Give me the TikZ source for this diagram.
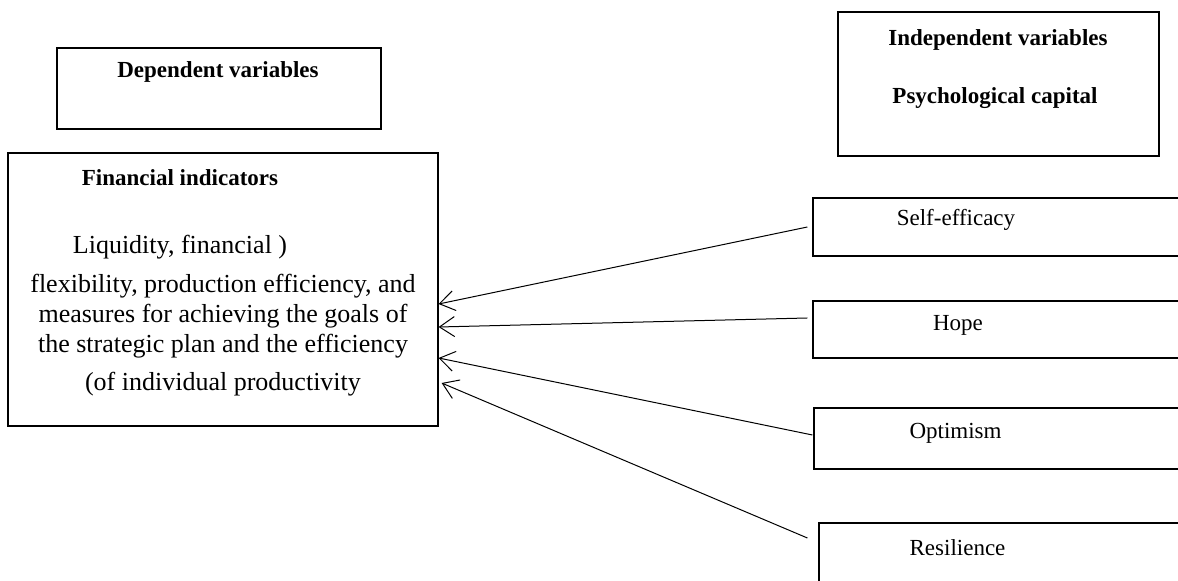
\documentclass[tikz,border=0pt]{standalone}
\usepackage{fontspec}
\setmainfont{Liberation Serif}
\usetikzlibrary{arrows.meta}

\begin{document}
\begin{tikzpicture}[x=0.5pt, y=-0.5pt,
    box/.style = {draw, line width=0.6pt, inner sep=0pt},
    head/.style = {font=\fontsize{11.5}{14}\selectfont\bfseries},
    varname/.style = {font=\fontsize{11.5}{14}\selectfont},
    arrow/.style = {line width=0.5pt,-{Straight Barb[length=7.5pt,width=10pt]}}]
                \useasboundingbox (0,0) rectangle (1178,581);
                \clip (0,0) rectangle (1178,581);

                % dependent side
                \node[box, minimum width=162pt, minimum height=40.5pt]
                    (dep) at (219,88.5) {};
                \node[head] (deptitle) at (218,72) {Dependent variables};
                \node[box, minimum width=215pt, minimum height=136.5pt]
                    (fin) at (223,289.5) {};
                \node[head] (fintitle) at (180,178) {Financial indicators};
                \node[align=center, font=\fontsize{13}{15}\selectfont]
                    (finbody) at (223,316)
                    {Liquidity, financial )\hspace*{43pt}\\[4.5pt]
                     flexibility, production efficiency, and\\
                     measures for achieving the goals of\\
                     the strategic plan and the efficiency\\[4pt]
                     (of individual productivity};

                % independent side
                \node[box, minimum width=160.5pt, minimum height=72pt]
                    (indep) at (998.5,84) {};
                \node[head] (indeptitle) at (998,40) {Independent variables};
                \node[head] (psycap) at (995,98) {Psychological capital};

                \node[box, minimum width=188.5pt, minimum height=29pt]
                    (self) at (1001.5,227) {};
                \node[varname] (selflabel) at (956,220) {Self-efficacy};
                \node[box, minimum width=188.5pt, minimum height=28.5pt]
                    (hope) at (1001.5,329.5) {};
                \node[varname] (hopelabel) at (958,325) {Hope};
                \node[box, minimum width=188pt, minimum height=30.5pt]
                    (opt) at (1002,438.5) {};
                \node[varname] (optlabel) at (955.5,433) {Optimism};
                \node[box, minimum width=185.5pt, minimum height=38.5pt]
                    (res) at (1004.5,561.5) {};
                \node[varname] (reslabel) at (957.5,548) {Resilience};

                % arrows
                \draw[arrow] ([xshift=-2.5pt]self.west) -- ([yshift=-7.25pt]fin.east);
                \draw[arrow] ([xshift=-2.5pt,yshift=5.75pt]hope.west) -- ([yshift=-18.75pt]fin.east);
                \draw[arrow] ([xshift=-0.5pt,yshift=1.75pt]opt.west) -- ([yshift=-34.25pt]fin.east);
                \draw[arrow] ([xshift=-5.5pt,yshift=11.75pt]res.west) -- ([xshift=1.5pt,yshift=-46.75pt]fin.east);
\end{tikzpicture}
\end{document}
